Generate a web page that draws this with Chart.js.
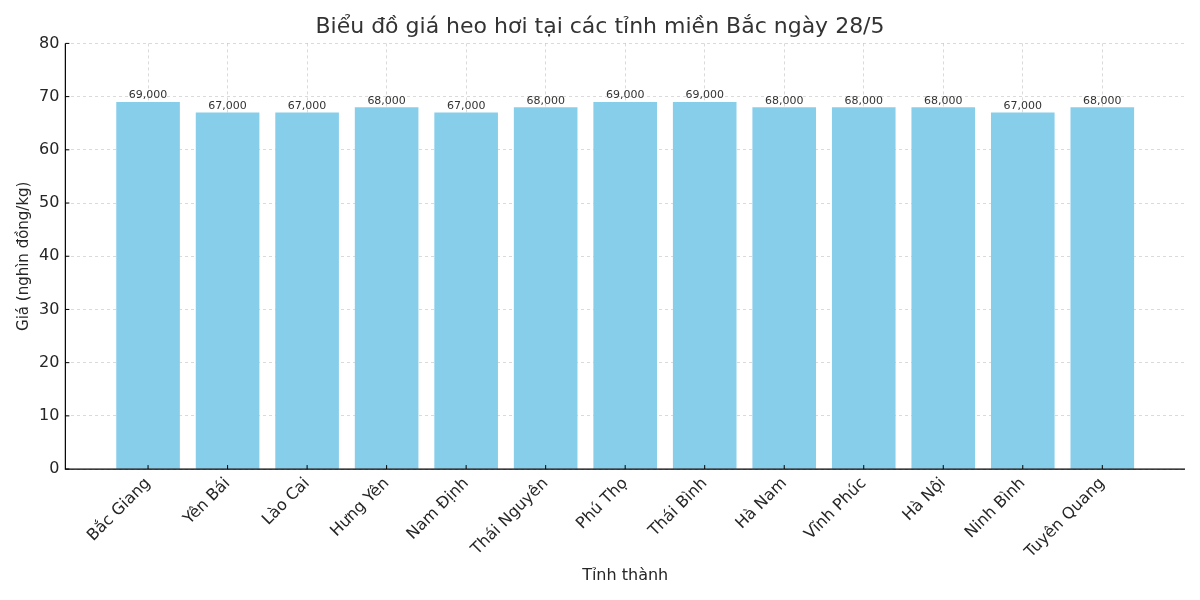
<!DOCTYPE html>
<html>
<head>
<meta charset="utf-8">
<script src="https://cdn.jsdelivr.net/npm/chart.js@4.4.0/dist/chart.umd.min.js"></script>
<style>
html,body{margin:0;padding:0;background:#fff;}
#wrap{width:1200px;height:600px;}
</style>
</head>
<body>
<div id="wrap"><canvas id="c"></canvas></div>
<script>
const categories = ["Bắc Giang","Yên Bái","Lào Cai","Hưng Yên","Nam Định","Thái Nguyên","Phú Thọ","Thái Bình","Hà Nam","Vĩnh Phúc","Hà Nội","Ninh Bình","Tuyên Quang"];
const prices = [69,67,67,68,67,68,69,69,68,68,68,67,68];
const yTicks = [0,10,20,30,40,50,60,70,80];
const titleText = "Biểu đồ giá heo hơi tại các tỉnh miền Bắc ngày 28/5";
const xTitle = "Tỉnh thành";
const yTitle = "Giá (nghìn đồng/kg)";

const FONT = "'DejaVu Sans', sans-serif";
Chart.defaults.font.family = FONT;
Chart.defaults.color = '#262626';

const spines = {
  id: 'spines',
  afterDraw(chart) {
    const {ctx, chartArea: a} = chart;
    ctx.save();
    ctx.strokeStyle = '#000';
    ctx.lineWidth = 1.2;
    ctx.beginPath();
    ctx.moveTo(a.left, a.top);
    ctx.lineTo(a.left, a.bottom);
    ctx.lineTo(a.right, a.bottom);
    ctx.stroke();
    const xs = chart.scales.x;
    ctx.lineWidth = 1;
    xs.ticks.forEach(t => {
      const px = xs.getPixelForValue(t.value);
      ctx.beginPath();
      ctx.moveTo(px, a.bottom);
      ctx.lineTo(px, a.bottom - 4);
      ctx.stroke();
    });
    const ys = chart.scales.y;
    ys.ticks.forEach(t => {
      const py = ys.getPixelForValue(t.value);
      ctx.beginPath();
      ctx.moveTo(a.left, py);
      ctx.lineTo(a.left + 4, py);
      ctx.stroke();
    });
    ctx.restore();
  }
};

const valueLabels = {
  id: 'valueLabels',
  afterDatasetsDraw(chart) {
    const {ctx} = chart;
    const meta = chart.getDatasetMeta(0);
    ctx.save();
    ctx.font = "11px " + FONT;
    ctx.fillStyle = '#333';
    ctx.textAlign = 'center';
    ctx.textBaseline = 'bottom';
    meta.data.forEach((bar, i) => {
      const txt = (prices[i] * 1000).toLocaleString('en-US');
      ctx.fillText(txt, bar.x, bar.y - 1);
    });
    ctx.restore();
  }
};

new Chart(document.getElementById('c'), {
  type: 'bar',
  data: {
    datasets: [{
      data: prices.map((v, i) => ({x: i, y: v})),
      backgroundColor: '#87CEEB',
      borderWidth: 0,
      barPercentage: 0.8,
      categoryPercentage: 1.0
    }]
  },
  options: {
    responsive: true,
    maintainAspectRatio: false,
    animation: false,
    layout: {padding: {left: 15, right: 15, top: 0, bottom: 15}},
    plugins: {
      legend: {display: false},
      tooltip: {enabled: false},
      title: {
        display: true,
        text: titleText,
        color: '#333',
        font: {size: 22, weight: 'normal', family: FONT},
        padding: {top: 14, bottom: 3}
      }
    },
    scales: {
      x: {
        type: 'linear',
        min: -1.04,
        max: 13.04,
        offset: false,
        z: 1,
        afterBuildTicks: axis => { axis.ticks = categories.map((_, i) => ({value: i})); },
        ticks: {
          autoSkip: false,
          minRotation: 45,
          maxRotation: 45,
          padding: 5,
          color: '#262626',
          font: {size: 16, family: FONT},
          callback: v => categories[v]
        },
        grid: {offset: false, color: 'rgba(170,170,170,0.55)', lineWidth: 0.8, drawTicks: false},
        border: {display: false, dash: [3, 3]},
        title: {display: true, text: xTitle, color: '#262626', font: {size: 16, family: FONT}, padding: {top: -1, bottom: 0}}
      },
      y: {
        min: 0,
        max: 80,
        z: 1,
        afterBuildTicks: axis => { axis.ticks = yTicks.map(v => ({value: v})); },
        ticks: {color: '#262626', font: {size: 16, family: FONT}, padding: 6},
        grid: {color: 'rgba(170,170,170,0.55)', lineWidth: 0.8, drawTicks: false},
        border: {display: false, dash: [3, 3]},
        title: {display: true, text: yTitle, color: '#262626', font: {size: 15, family: FONT}, padding: {top: 0, bottom: 0}}
      }
    }
  },
  plugins: [spines, valueLabels]
});
</script>
</body>
</html>
